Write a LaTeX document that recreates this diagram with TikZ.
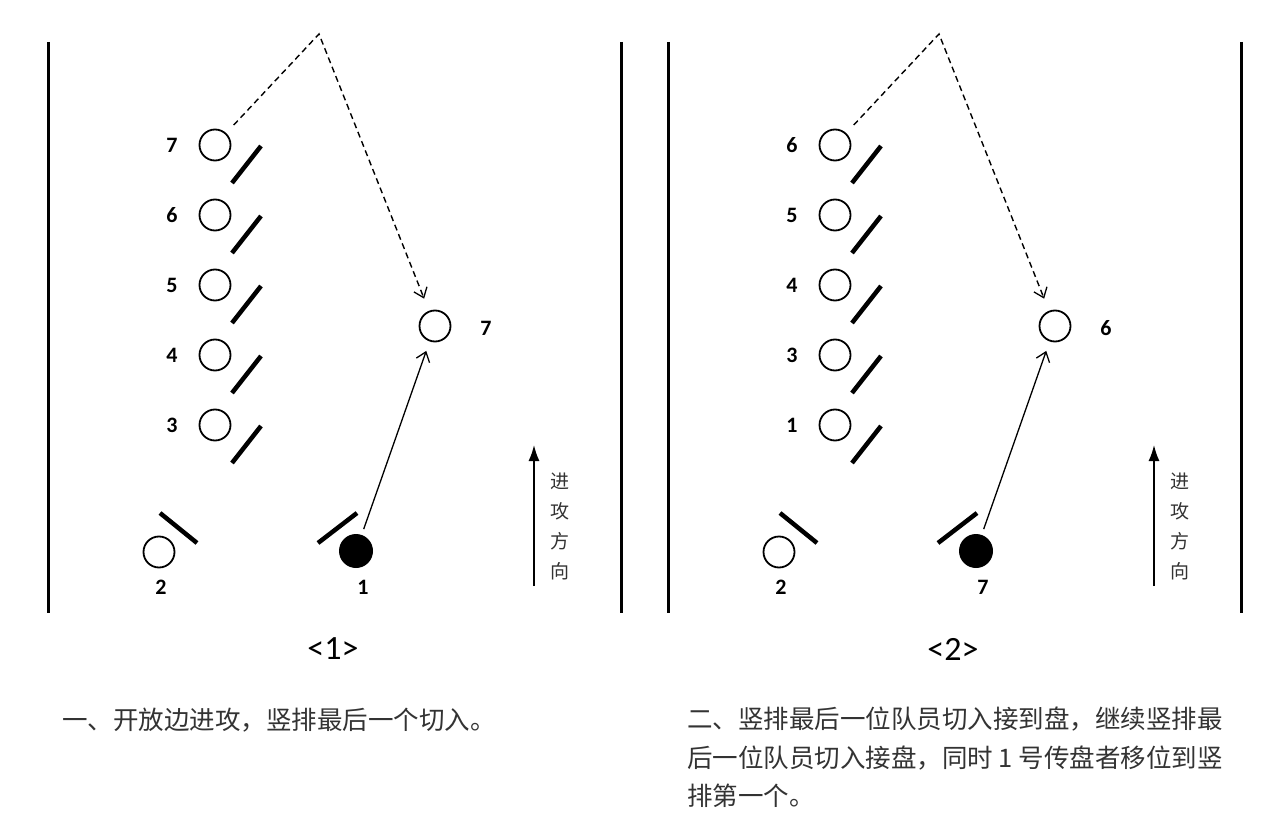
\documentclass[tikz,border=0pt]{standalone}
\usepackage{fontspec}
\setmainfont{Carlito}
\newfontfamily\cjk{Noto Sans CJK SC}
\newfontfamily\labfont{Carlito}
\usetikzlibrary{arrows.meta}
\definecolor{captxt}{HTML}{333333}
\begin{document}
\begin{tikzpicture}[x=1pt,y=-1pt,
  player/.style={circle,draw,line width=1.8pt,minimum size=31pt,inner sep=0pt},
  disc/.style={circle,fill,minimum size=34pt,inner sep=0pt},
  markline/.style={line width=4.5pt},
  num/.style={font=\labfont\bfseries\fontsize{22}{26}\selectfont,inner sep=0pt},
  sideline/.style={line width=3pt},
  passline/.style={line width=1.4pt,dash pattern=on 6pt off 4pt,
    -{Straight Barb[length=9pt,width=14pt,line width=1.3pt]}},
  cutline/.style={line width=1.3pt,
    -{Straight Barb[length=9pt,width=14pt,line width=1.3pt]}},
  dirarrow/.style={line width=1.6pt,-{Latex[length=16pt,width=11pt]}},
  dirtext/.style={font=\cjk\fontsize{19}{30}\selectfont,align=center,text=captxt,inner sep=0pt},
  paneltag/.style={font=\labfont\fontsize{34}{40}\selectfont,inner sep=0pt},
  caption/.style={font=\cjk\fontsize{25.5}{38.5}\selectfont,text=captxt,inner sep=0pt,align=left}
]
\useasboundingbox (0,0) rectangle (1280,813);
\fill[white] (0,0) rectangle (1280,813);

\foreach \dx/\pn/\tg/\la/\lb/\lc/\ld/\le/\recv/\bot in {0/A/1/7/6/5/4/3/7/1, 620/B/2/6/5/4/3/1/6/7} {
\begin{scope}[xshift=\dx pt]
  % side lines
  \coordinate (lt\pn) at (48,42);  \coordinate (lb\pn) at (48,613);
  \coordinate (rt\pn) at (621,42); \coordinate (rb\pn) at (621,613);
  \draw[sideline] (lt\pn) -- (lb\pn);
  \draw[sideline] (rt\pn) -- (rb\pn);
  % column of players
  \foreach \i/\lab in {1/\la,2/\lb,3/\lc,4/\ld,5/\le} {
    \node[player] (c\i\pn) at (215,{75+70*\i}) {};
    \node[num] (n\i\pn) at (172,{75+70*\i}) {\lab};
    \draw[markline] ([shift={(17,38)}]c\i\pn.center) -- ++(29,-37);
  }
  % receiver
  \node[player] (r\pn) at (435,326) {};
  \node[num] (rn\pn) at (486,328) {\recv};
  % bottom players
  \node[player] (p2\pn) at (159,552) {};
  \node[num] (p2n\pn) at (161,587) {2};
  \draw[markline] ([shift={(1,-39)}]p2\pn.center) -- ++(37,30);
  \node[disc] (d\pn) at (356,551) {};
  \node[num] (dn\pn) at (363,587) {\bot};
  \draw[markline] ([shift={(-38,-8)}]d\pn.center) -- ++(39,-30);
  % pass (dashed) and cut (solid)
  \coordinate (apex\pn) at (319,34);
  \draw[passline,shorten <=11pt,shorten >=13pt] (c1\pn) -- (apex\pn) -- (r\pn);
  \draw[cutline,shorten <=6pt,shorten >=10pt] (d\pn) -- (r\pn);
  % attack direction
  \coordinate (ds\pn) at (534,586);
  \coordinate (de\pn) at (534,445);
  \draw[dirarrow] (ds\pn) -- (de\pn);
  \node[dirtext] (dt\pn) at (560,526) {进\\攻\\方\\向};
  % panel tag
  \node[paneltag] (tag\pn) at (333,649) {<\tg>};
\end{scope}
}

\node[caption,anchor=west] (capA) at (62,720) {一、开放边进攻，竖排最后一个切入。};
\node[caption,anchor=north west] (capB) at (687,707)
  {二、竖排最后一位队员切入接到盘，继续竖排最\\后一位队员切入接盘，同时 1 号传盘者移位到竖\\排第一个。};
\end{tikzpicture}
\end{document}
